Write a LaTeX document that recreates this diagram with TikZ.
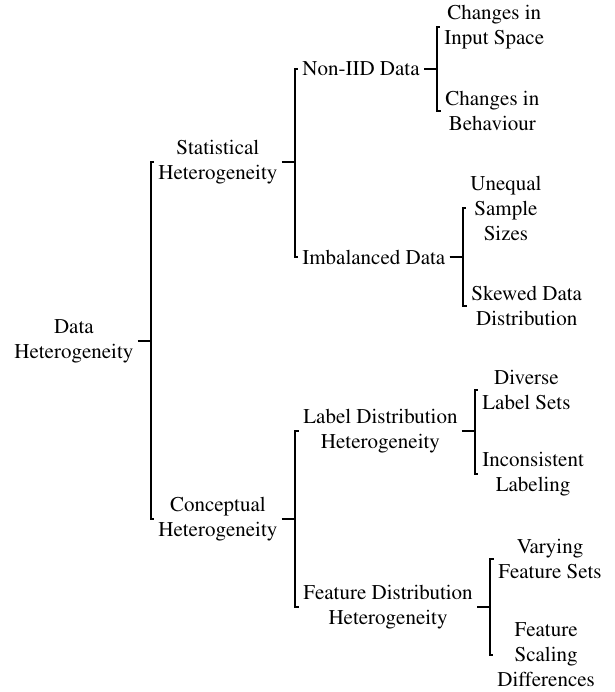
\documentclass[tikz,border=0pt]{standalone}
\usepackage[T1]{fontenc}
\usepackage{mathptmx}
\usetikzlibrary{positioning}

\begin{document}
\begin{tikzpicture}[x=0.5pt, y=-0.5pt,
  font=\rmfamily\fontsize{10.5}{12.5}\selectfont,
  every node/.style={inner xsep=2pt, inner ysep=0pt, anchor=west, align=center},
  fork/.style={line width=1pt, draw=black}]
\useasboundingbox (0,0) rectangle (615,692);
\node (root) at (10, 341) {Data\\Heterogeneity};
\node (stat) at (154, 162) {Statistical\\Heterogeneity};
\node (conc) at (154, 519) {Conceptual\\Heterogeneity};
\node (niid) at (298, 69) {Non-IID Data};
\node (imb) at (298, 257) {Imbalanced Data};
\node (ldh) at (299, 431) {Label Distribution\\Heterogeneity};
\node (fdh) at (299, 607) {Feature Distribution\\Heterogeneity};
\node (cis) at (440, 27) {Changes in\\Input Space};
\node (cib) at (441, 111) {Changes in\\Behaviour};
\node (uss) at (466, 208) {Unequal\\Sample\\Sizes};
\node (sdd) at (467, 306) {Skewed Data\\Distribution};
\node (dls) at (478, 390) {Diverse\\Label Sets};
\node (il) at (478, 474) {Inconsistent\\Labeling};
\node (vfs) at (494, 559) {Varying\\Feature Sets};
\node (fsd) at (493, 655) {Feature\\Scaling\\Differences};
\draw [fork] (root.east) -- ++(13,0) |- (stat.west);
\draw [fork] (root.east) -- ++(13,0) |- (conc.west);
\draw [fork] (stat.east) -- ++(13,0) |- (niid.west);
\draw [fork] (stat.east) -- ++(13,0) |- (imb.west);
\draw [fork] (conc.east) -- ++(13,0) |- (ldh.west);
\draw [fork] (conc.east) -- ++(13,0) |- (fdh.west);
\draw [fork] (niid.east) -- ++(13,0) |- (cis.west);
\draw [fork] (niid.east) -- ++(13,0) |- (cib.west);
\draw [fork] (imb.east) -- ++(13,0) |- (uss.west);
\draw [fork] (imb.east) -- ++(13,0) |- (sdd.west);
\draw [fork] (ldh.east) -- ++(13,0) |- (dls.west);
\draw [fork] (ldh.east) -- ++(13,0) |- (il.west);
\draw [fork] (fdh.east) -- ++(13,0) |- (vfs.west);
\draw [fork] (fdh.east) -- ++(13,0) |- (fsd.west);
\end{tikzpicture}
\end{document}
